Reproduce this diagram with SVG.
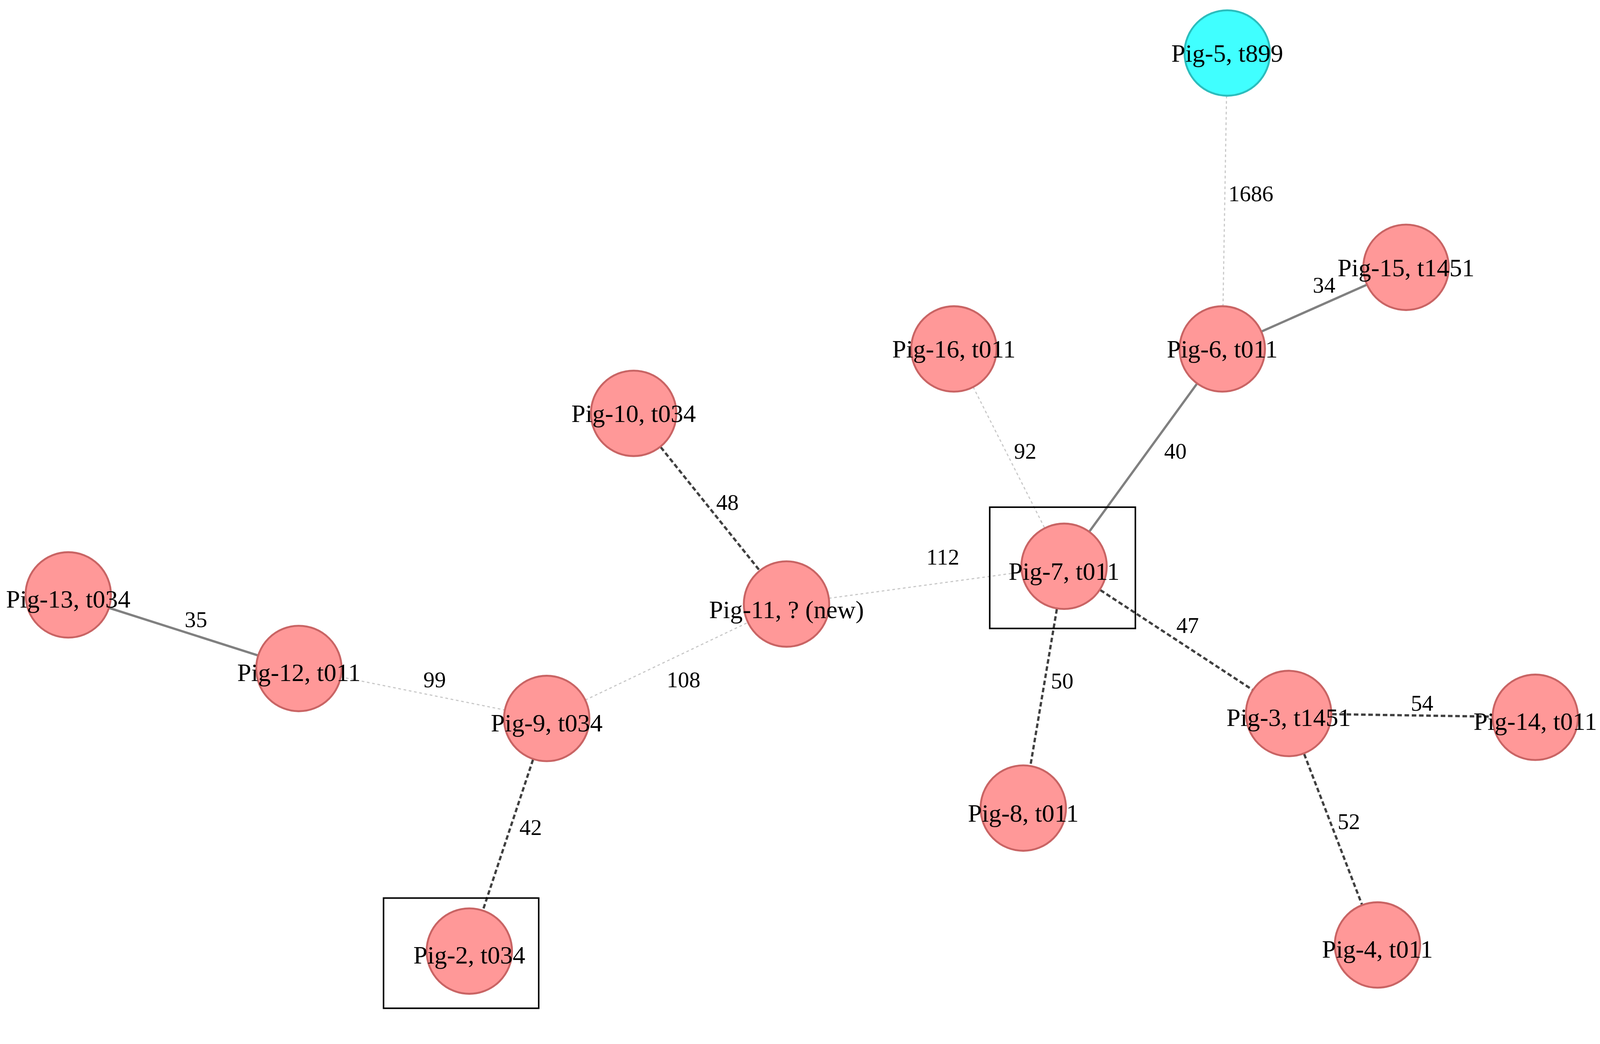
<svg xmlns="http://www.w3.org/2000/svg" width="4196" height="2672" viewBox="0 0 4196 2672">
<style>
.n{fill:#ff9898;stroke:#c96464;stroke-width:5}
.c{fill:#40ffff;stroke:#2bbdbd;stroke-width:5}
.t{font-family:"Liberation Serif","DejaVu Serif",serif;font-size:66px;fill:#000;text-anchor:middle}
.e{font-family:"Liberation Serif","DejaVu Serif",serif;font-size:59px;fill:#000;text-anchor:middle}
.s{stroke:#808080;stroke-width:6;fill:none}
.d{stroke:#404040;stroke-width:6;stroke-dasharray:12 7;fill:none}
.l{stroke:#c8c8c8;stroke-width:3;stroke-dasharray:7 7;fill:none}
.b{fill:none;stroke:#000;stroke-width:4}
</style>
<rect width="4196" height="2672" fill="#fff"/>
<g transform="scale(0.976)">
<g id="connectors">
<line class="l" x1="3219" y1="139" x2="3206" y2="915"/>
<line class="s" x1="3206" y1="915" x2="3688" y2="701"/>
<line class="s" x1="3206" y1="915" x2="2791" y2="1485"/>
<line class="l" x1="2502" y1="915" x2="2791" y2="1485"/>
<line class="d" x1="1662" y1="1084" x2="2063" y2="1584"/>
<line class="l" x1="2063" y1="1584" x2="2791" y2="1485"/>
<line class="s" x1="179" y1="1560" x2="784" y2="1753"/>
<line class="l" x1="784" y1="1753" x2="1434" y2="1884"/>
<line class="l" x1="1434" y1="1884" x2="2063" y2="1584"/>
<line class="d" x1="1434" y1="1884" x2="1231" y2="2494"/>
<line class="d" x1="2791" y1="1485" x2="2684" y2="2119"/>
<line class="d" x1="2791" y1="1485" x2="3380" y2="1871"/>
<line class="d" x1="3380" y1="1871" x2="4027" y2="1881"/>
<line class="d" x1="3380" y1="1871" x2="3613" y2="2478"/>
<text class="e" x="3281" y="528">1686</text>
<text class="e" x="3473" y="767">34</text>
<text class="e" x="3083" y="1203">40</text>
<text class="e" x="2689" y="1203">92</text>
<text class="e" x="1908" y="1337">48</text>
<text class="e" x="2473" y="1481">112</text>
<text class="e" x="514" y="1644">35</text>
<text class="e" x="1140" y="1802">99</text>
<text class="e" x="1793" y="1802">108</text>
<text class="e" x="1392" y="2190">42</text>
<text class="e" x="2786" y="1805">50</text>
<text class="e" x="3115" y="1660">47</text>
<text class="e" x="3730" y="1864">54</text>
<text class="e" x="3538" y="2174">52</text>
</g>
<rect class="b" x="2596" y="1330" width="382" height="318"/>
<rect class="b" x="1006" y="2355" width="407" height="289"/>
<g id="pig5"><circle class="c" cx="3219" cy="139" r="112"/><text class="t" x="3219" y="162">Pig-5, t899</text></g>
<g id="pig15"><circle class="n" cx="3688" cy="701" r="112"/><text class="t" x="3688" y="724">Pig-15, t1451</text></g>
<g id="pig6"><circle class="n" cx="3206" cy="915" r="112"/><text class="t" x="3206" y="938">Pig-6, t011</text></g>
<g id="pig16"><circle class="n" cx="2502" cy="915" r="112"/><text class="t" x="2502" y="938">Pig-16, t011</text></g>
<g id="pig10"><circle class="n" cx="1662" cy="1084" r="112"/><text class="t" x="1662" y="1107">Pig-10, t034</text></g>
<g id="pig7"><circle class="n" cx="2791" cy="1485" r="112"/><text class="t" x="2791" y="1520">Pig-7, t011</text></g>
<g id="pig13"><circle class="n" cx="179" cy="1560" r="112"/><text class="t" x="179" y="1593">Pig-13, t034</text></g>
<g id="pig12"><circle class="n" cx="784" cy="1753" r="112"/><text class="t" x="784" y="1786">Pig-12, t011</text></g>
<g id="pig11"><circle class="n" cx="2063" cy="1584" r="112"/><text class="t" x="2063" y="1621">Pig-11, ? (new)</text></g>
<g id="pig9"><circle class="n" cx="1434" cy="1884" r="112"/><text class="t" x="1434" y="1918">Pig-9, t034</text></g>
<g id="pig3"><circle class="n" cx="3380" cy="1871" r="112"/><text class="t" x="3380" y="1904">Pig-3, t1451</text></g>
<g id="pig14"><circle class="n" cx="4027" cy="1881" r="112"/><text class="t" x="4027" y="1914">Pig-14, t011</text></g>
<g id="pig8"><circle class="n" cx="2684" cy="2119" r="112"/><text class="t" x="2684" y="2155">Pig-8, t011</text></g>
<g id="pig2"><circle class="n" cx="1231" cy="2494" r="112"/><text class="t" x="1231" y="2527">Pig-2, t034</text></g>
<g id="pig4"><circle class="n" cx="3613" cy="2478" r="112"/><text class="t" x="3613" y="2511">Pig-4, t011</text></g>
</g>
</svg>
